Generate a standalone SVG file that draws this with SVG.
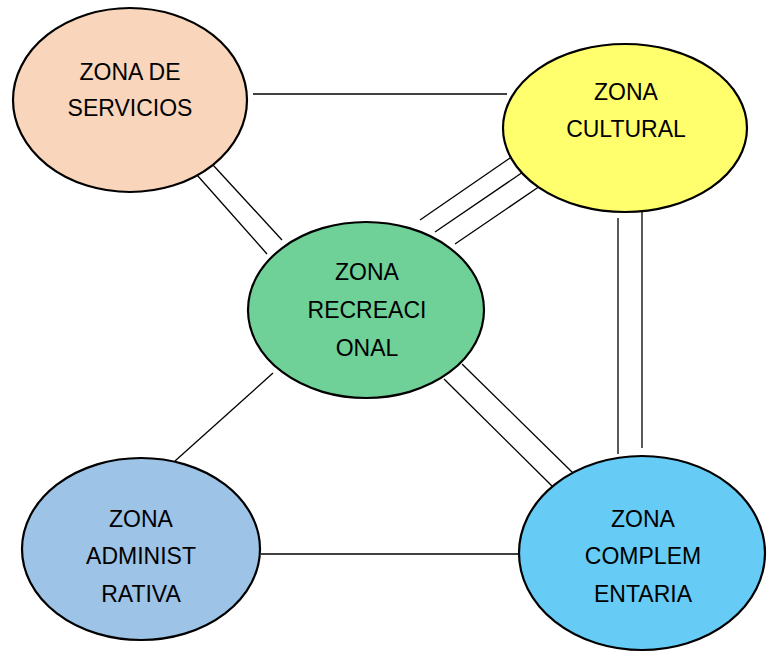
<svg xmlns="http://www.w3.org/2000/svg" width="769" height="652" viewBox="0 0 769 652">
<style>
.n{stroke:#000;stroke-width:2.2}
.c line{stroke:#000;stroke-width:1.3}
text{font-family:"Liberation Sans",Arial,sans-serif;font-size:23px;fill:#000;text-anchor:middle}
</style>
<rect width="769" height="652" fill="#fff"/>
<g id="connectors" class="c">
<line x1="253" y1="94" x2="507" y2="94"/>
<line x1="261" y1="554" x2="519" y2="554"/>
<line x1="197" y1="175" x2="267" y2="254"/>
<line x1="213" y1="165" x2="282" y2="240"/>
<line x1="510" y1="158" x2="420" y2="220"/>
<line x1="523" y1="172" x2="435" y2="232"/>
<line x1="543" y1="184" x2="455" y2="244"/>
<line x1="444" y1="379" x2="553" y2="487"/>
<line x1="462" y1="364" x2="573" y2="473"/>
<line x1="618" y1="218" x2="618" y2="454"/>
<line x1="642" y1="212" x2="642" y2="448"/>
<line x1="273" y1="373" x2="175" y2="461"/>
</g>
<g id="servicios">
<ellipse class="n" cx="130" cy="100" rx="117" ry="92" fill="#F8D5BB" stroke="#444"/>
<text x="130" y="80">ZONA DE</text>
<text x="130" y="116">SERVICIOS</text>
</g>
<g id="cultural">
<ellipse class="n" cx="625" cy="128" rx="122" ry="84" fill="#FFFF6E"/>
<text x="626" y="100">ZONA</text>
<text x="626" y="137">CULTURAL</text>
</g>
<g id="recreacional">
<ellipse class="n" cx="366" cy="310" rx="118" ry="88" fill="#6FD098"/>
<text x="367" y="280">ZONA</text>
<text x="367" y="318">RECREACI</text>
<text x="367" y="356">ONAL</text>
</g>
<g id="administrativa">
<ellipse class="n" cx="141" cy="549" rx="119" ry="91" fill="#9DC3E6"/>
<text x="141" y="527">ZONA</text>
<text x="141" y="564">ADMINIST</text>
<text x="141" y="602">RATIVA</text>
</g>
<g id="complementaria">
<ellipse class="n" cx="642" cy="553" rx="123" ry="97" fill="#66CCF5"/>
<text x="643" y="527">ZONA</text>
<text x="643" y="564">COMPLEM</text>
<text x="643" y="602">ENTARIA</text>
</g>
</svg>
